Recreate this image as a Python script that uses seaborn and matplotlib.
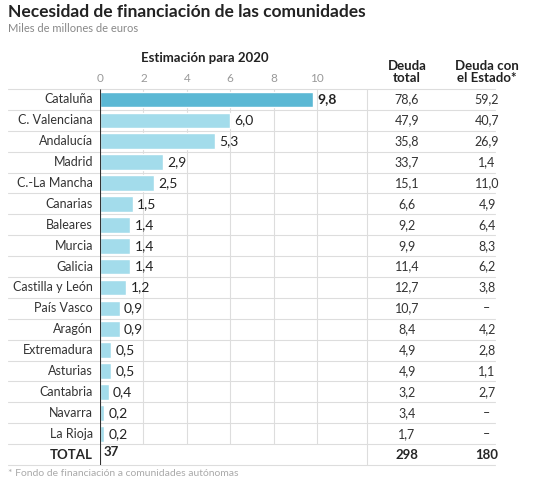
import matplotlib
matplotlib.use("Agg")
import matplotlib.pyplot as plt
import seaborn as sns
import pandas as pd
from matplotlib.transforms import blended_transform_factory as btf

regions = ["Cataluña","C. Valenciana","Andalucía","Madrid","C.-La Mancha","Canarias","Baleares",
           "Murcia","Galicia","Castilla y León","País Vasco","Aragón","Extremadura","Asturias",
           "Cantabria","Navarra","La Rioja"]
estimacion = [9.8,6.0,5.3,2.9,2.5,1.5,1.4,1.4,1.4,1.2,0.9,0.9,0.5,0.5,0.4,0.2,0.2]
deuda_total = ["78,6","47,9","35,8","33,7","15,1","6,6","9,2","9,9","11,4","12,7","10,7","8,4","4,9","4,9","3,2","3,4","1,7"]
deuda_estado = ["59,2","40,7","26,9","1,4","11,0","4,9","6,4","8,3","6,2","3,8","–","4,2","2,8","1,1","2,7","–","–"]
totals = ["37","298","180"]

sns.set_theme(style="white")
plt.rcParams['font.family'] = ['Lato', 'DejaVu Sans']

df = pd.DataFrame({"region": regions, "val": estimacion})
fig = plt.figure(figsize=(5.53, 4.8), dpi=100)
ax = fig.add_axes([100/553, 1-465/480, 265/553, 376/480])
colors = ["#5BB8D4"] + ["#A3DCEB"]*(len(regions)-1)
sns.barplot(data=df, x="val", y="region", hue="region", palette=colors, legend=False,
            ax=ax, width=0.75, orient="h", saturation=1)
ax.set_xlim(0, 265/21.7)
ax.set_ylim(17.5, -0.5)
for s in ax.spines.values():
    s.set_visible(False)
ax.set_xlabel(""); ax.set_ylabel("")
ax.set_yticks([]); ax.set_xticks([])
for t in [2,4,6,8,10]:
    ax.vlines(t, -0.5, 16.5, color="#dddddd", lw=0.8, zorder=0)
    ax.text(t, -0.75, str(t), ha="center", va="bottom", color="#999999", fontsize=8.5)
ax.text(0, -0.75, "0", ha="center", va="bottom", color="#999999", fontsize=8.5)
ax.vlines(0, -0.5, 17.5, color="#333333", lw=0.8, zorder=3)

tr = btf(fig.transFigure, ax.transData)
for i, (r, v) in enumerate(zip(regions, estimacion)):
    ax.text(v + 0.2, i, f"{v:.1f}".replace(".", ","), va="center", ha="left",
            fontsize=10, fontweight="bold" if i == 0 else "normal", color="#222222")
    ax.text(93/553, i, r, transform=tr, ha="right", va="center", fontsize=9, color="#333333")
    ax.text(407/553, i, deuda_total[i], transform=tr, ha="center", va="center", fontsize=9, color="#333333")
    ax.text(487/553, i, deuda_estado[i], transform=tr, ha="center", va="center", fontsize=9, color="#333333")
for k in range(19):
    ax.plot([8/553, 495/553], [k-0.5, k-0.5], transform=tr, color="#dddddd", lw=0.8, clip_on=False)
ax.text(93/553, 17, "TOTAL", transform=tr, ha="right", va="center", fontsize=9.5, fontweight="bold")
ax.text(0.15, 16.9, totals[0], ha="left", va="center", fontsize=9.5, fontweight="bold")
ax.text(407/553, 17, totals[1], transform=tr, ha="center", va="center", fontsize=9.5, fontweight="bold")
ax.text(487/553, 17, totals[2], transform=tr, ha="center", va="center", fontsize=9.5, fontweight="bold")
ax.plot([367/553, 367/553], [-0.5, 17.5], transform=tr, color="#dddddd", lw=0.8, clip_on=False)

fig.text(8/553, 1-12/480, "Necesidad de financiación de las comunidades", fontsize=12.5,
         fontweight="bold", va="center", color="#222222")
fig.text(8/553, 1-28/480, "Miles de millones de euros", fontsize=8, va="center", color="#888888")
fig.text(205/553, 1-58/480, "Estimación para 2020", fontsize=9.5, fontweight="bold",
         ha="center", va="center", color="#222222")
fig.text(407/553, 1-72/480, "Deuda\ntotal", fontsize=9.5, fontweight="bold", ha="center",
         va="center", color="#222222", linespacing=1.1)
fig.text(487/553, 1-72/480, "Deuda con\nel Estado*", fontsize=9.5, fontweight="bold", ha="center",
         va="center", color="#222222", linespacing=1.1)
fig.text(8/553, 1-474/480, "* Fondo de financiación a comunidades autónomas", fontsize=7.5,
         va="center", color="#aaaaaa")
fig.savefig("out.png", dpi=100)
